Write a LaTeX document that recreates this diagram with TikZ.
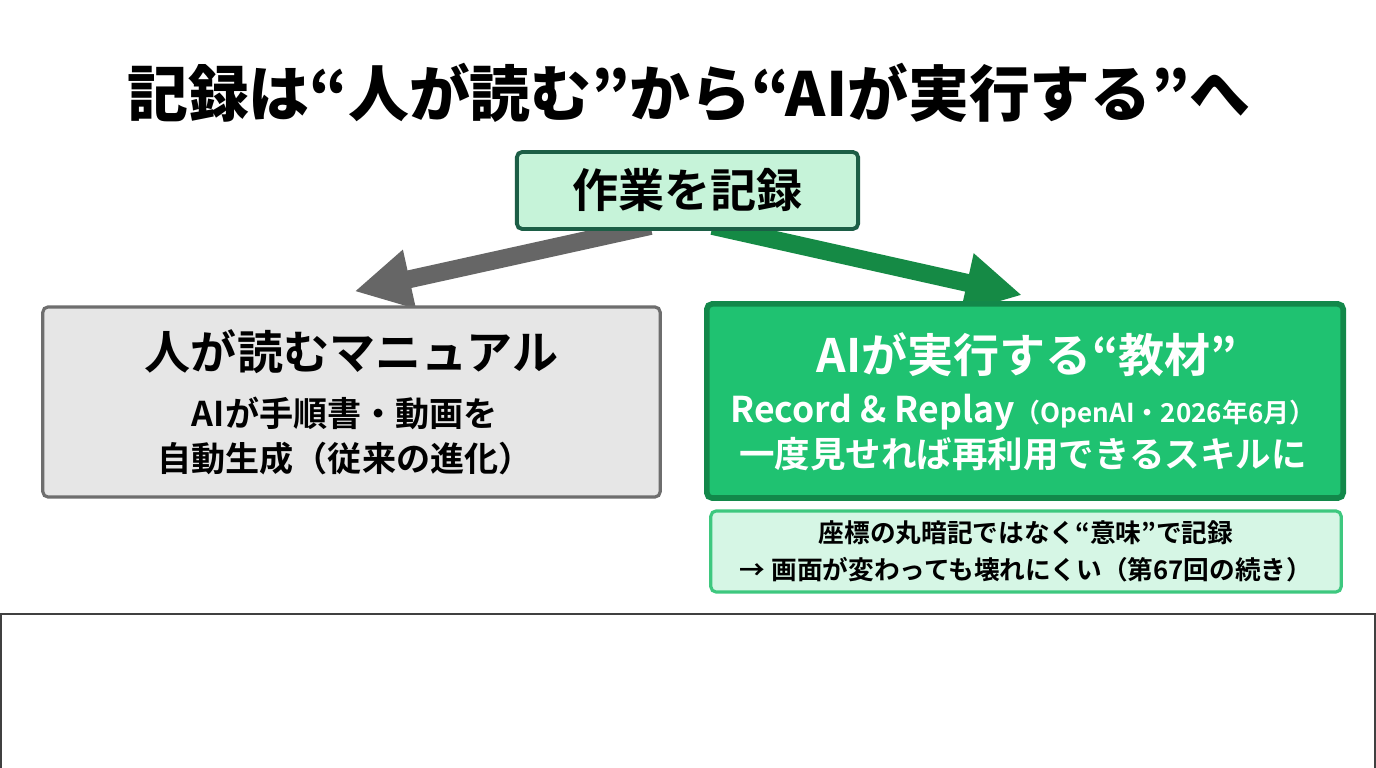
\documentclass[tikz,border=0pt]{standalone}
\usepackage{fontspec}
\setmainfont{Noto Sans CJK JP}[BoldFont={Noto Sans CJK JP Bold}]
\newfontfamily\heavyfont{Noto Sans CJK JP Black}
\usetikzlibrary{arrows.meta, backgrounds}

\definecolor{mintfill}{HTML}{C6F3D9}
\definecolor{mintline}{HTML}{1C5E46}
\definecolor{manfill}{HTML}{E6E6E6}
\definecolor{manline}{HTML}{6E6E6E}
\definecolor{aifill}{HTML}{1FC271}
\definecolor{ailine}{HTML}{12884A}
\definecolor{notefill}{HTML}{D6F6E5}
\definecolor{noteline}{HTML}{3EC87F}
\definecolor{arrowgray}{HTML}{666666}
\definecolor{arrowgreen}{HTML}{158A45}

\tikzset{
  box/.style={draw, rounded corners=1.5pt, inner sep=0pt, align=center},
  fatarrow/.style={line width=5.1pt, -{Triangle[length=16pt, width=16pt]}},
  boxtitle/.style={font=\bfseries\fontsize{13.1}{15}\selectfont},
}

\begin{document}
\begin{tikzpicture}[x=0.01cm, y=-0.01cm]
\useasboundingbox (0,0) rectangle (1376,768);

% title
\node (title) at (689,93) {\heavyfont\fontsize{17.3}{19}\selectfont 記録は“人が読む”から“AIが実行する”へ};

% boxes
\node[box, fill=mintfill, draw=mintline, line width=1.1pt, minimum width=3.41cm, minimum height=0.77cm,
  boxtitle] (rec) at (687.5,190.5) {作業を記録};
\node[box, fill=manfill, draw=manline, line width=0.9pt, minimum width=6.17cm, minimum height=1.90cm] (manual) at (351.5,402) {};
\node[box, fill=aifill, draw=ailine, line width=1.6pt, minimum width=6.36cm, minimum height=1.94cm] (skill) at (1025,401) {};
\node[box, fill=notefill, draw=noteline, line width=0.9pt, minimum width=6.30cm, minimum height=0.81cm,
  font=\bfseries\fontsize{7.3}{10.5}\selectfont] (note) at (1026,551.5)
  {座標の丸暗記ではなく“意味”で記録\\→ 画面が変わっても壊れにくい（第67回の続き）};

% box texts
\node[boxtitle] (mantitle) at (351.5,352) {人が読むマニュアル};
\node[font=\bfseries\fontsize{9.7}{12.8}\selectfont, align=center] (mantext) at (345,436) {AIが手順書・動画を\\自動生成（従来の進化）};
\node[boxtitle, text=white] (skilltitle) at (1027,355) {AIが実行する“教材”};
\node[font=\bfseries\fontsize{10.1}{12.8}\selectfont, align=center, text=white] (skilltext) at (1023,433)
  {Record \& Replay{\fontsize{7.4}{9}\selectfont（OpenAI・2026年6月）}\\一度見せれば再利用できるスキルに};

% arrows
\begin{scope}[on background layer]
\fill[white] (0,0) rectangle (1376,768);
\draw[fatarrow, arrowgray] ([xshift=-0.37cm, yshift=0.05cm]rec.south) -- ([xshift=0.03cm, yshift=0.14cm]manual.north);
\draw[fatarrow, arrowgreen] ([xshift=0.25cm, yshift=0.05cm]rec.south) -- ([xshift=-0.03cm, yshift=0.06cm]skill.north);
\end{scope}

% lower frame
\draw[line width=0.6pt, draw=black!75] (0.5,614) rectangle (1375.5,800);
\end{tikzpicture}
\end{document}
